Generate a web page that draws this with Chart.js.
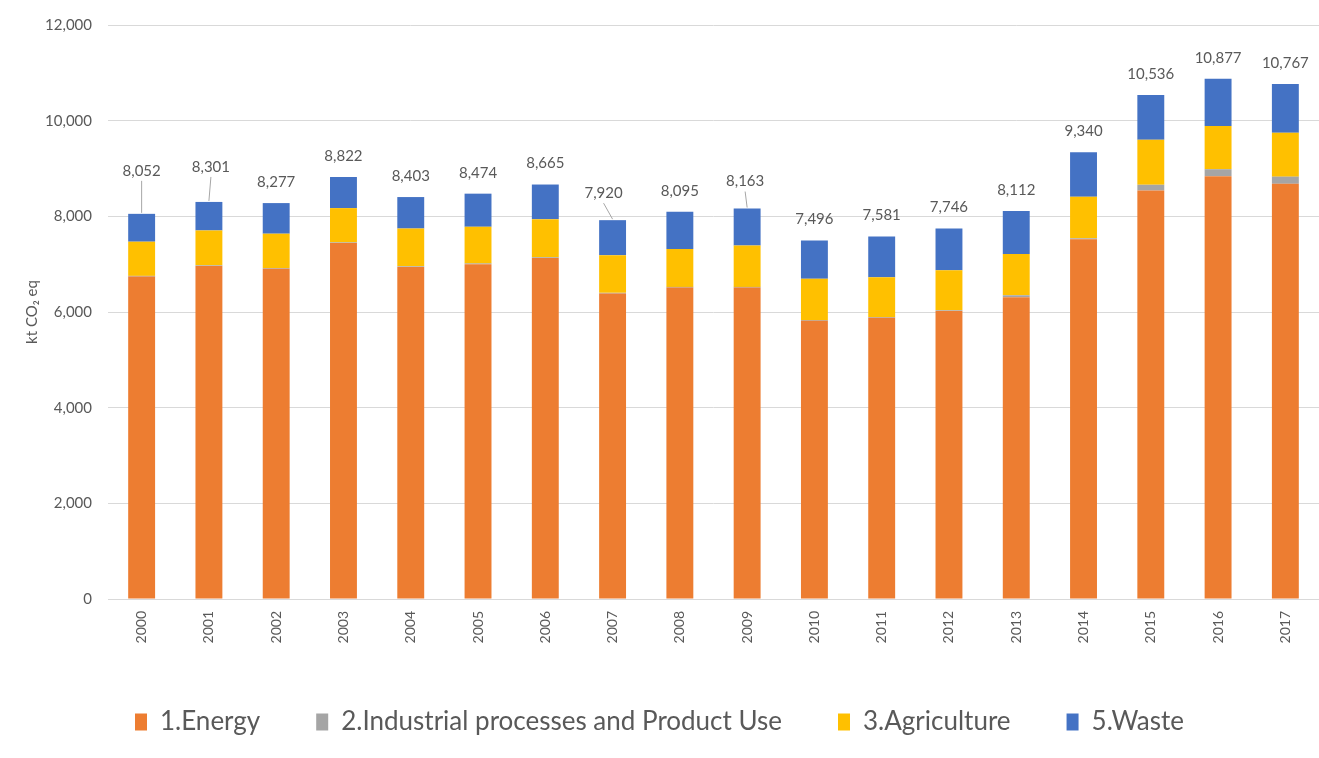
<!DOCTYPE html>
<html>
<head>
<meta charset="utf-8">
<script src="https://cdn.jsdelivr.net/npm/chart.js@4.4.1/dist/chart.umd.min.js"></script>
<style>
  html, body { margin: 0; padding: 0; background: #ffffff; }
  #wrap { width: 1319px; height: 758px; position: relative; }
</style>
</head>
<body>
<div id="wrap"><canvas id="c" width="1319" height="758"></canvas></div>
<script>
const years = ['2000','2001','2002','2003','2004','2005','2006','2007','2008','2009','2010','2011','2012','2013','2014','2015','2016','2017'];
const energy      = [6740, 6960, 6905, 7440, 6940, 7000, 7130, 6385, 6510, 6510, 5815, 5880, 6020, 6310, 7520, 8540, 8840, 8680];
const industrial  = [  15,   15,   15,   15,   15,   15,   15,   15,   15,   15,   15,   15,   15,   40,   20,  120,  145,  150];
const agriculture = [ 715,  730,  717,  717,  790,  767,  795,  787,  794,  863,  865,  830,  836,  865,  870,  940,  905,  920];
const waste       = [ 582,  596,  640,  650,  658,  692,  725,  733,  776,  775,  801,  856,  875,  897,  930,  936,  987, 1017];
const totals      = [8052, 8301, 8277, 8822, 8403, 8474, 8665, 7920, 8095, 8163, 7496, 7581, 7746, 8112, 9340, 10536, 10877, 10767];
const seriesNames = ['1.Energy', '2.Industrial processes and Product Use', '3.Agriculture', '5.Waste'];
const yTicks = [0, 2000, 4000, 6000, 8000, 10000, 12000];

const FONT = 'Lato, "Open Sans", sans-serif';
const TEXT = '#595959';

// label placement styling: default offset above stack, with some labels lifted and tied by a leader line
const labelStyle = {
  offset: 21,
  leaders: { 0: {dx: 0, dy: 43}, 1: {dx: 2, dy: 35}, 7: {dx: -9, dy: 27}, 9: {dx: -2, dy: 27} }
};

const totalLabels = {
  id: 'totalLabels',
  afterDatasetsDraw(chart) {
    const {ctx, scales: {x, y}} = chart;
    ctx.save();
    ctx.font = '15px ' + FONT;
    ctx.fillStyle = TEXT;
    ctx.textAlign = 'center';
    ctx.textBaseline = 'middle';
    totals.forEach((t, i) => {
      const cx = x.getPixelForValue(i);
      const top = y.getPixelForValue(t);
      const lead = labelStyle.leaders[i];
      const dy = lead ? lead.dy : labelStyle.offset;
      const dx = lead ? lead.dx : 0;
      const ly = top - dy;
      ctx.fillText(t.toLocaleString('en-US'), cx + dx, ly);
      if (lead) {
        ctx.strokeStyle = '#A6A6A6';
        ctx.lineWidth = 1;
        ctx.beginPath();
        ctx.moveTo(cx + dx, ly + 10);
        ctx.lineTo(cx, top - 1);
        ctx.stroke();
      }
    });
    ctx.restore();
  }
};

new Chart(document.getElementById('c'), {
  type: 'bar',
  data: {
    labels: years,
    datasets: [
      { label: seriesNames[0], data: energy,      backgroundColor: '#ED7D31' },
      { label: seriesNames[1], data: industrial,  backgroundColor: '#A5A5A5' },
      { label: seriesNames[2], data: agriculture, backgroundColor: '#FFC000' },
      { label: seriesNames[3], data: waste,       backgroundColor: '#4472C4' }
    ]
  },
  options: {
    responsive: false,
    animation: false,
    devicePixelRatio: 1,
    layout: { padding: { top: 25, right: 0, bottom: 13, left: 0 } },
    datasets: { bar: { categoryPercentage: 0.8, barPercentage: 0.5, borderWidth: 0 } },
    plugins: {
      tooltip: { enabled: false },
      legend: {
        position: 'bottom',
        labels: {
          font: { family: FONT, size: 26 },
          color: TEXT,
          boxWidth: 12,
          boxHeight: 17,
          padding: 56
        }
      }
    },
    scales: {
      x: {
        stacked: true,
        grid: { display: false, drawTicks: false },
        border: { display: true, color: '#D9D9D9', width: 1 },
        ticks: {
          font: { family: FONT, size: 14 },
          color: TEXT,
          minRotation: 90,
          maxRotation: 90,
          autoSkip: false,
          padding: 12
        },
        afterFit(scale) { scale.height = 54; }
      },
      y: {
        stacked: true,
        min: 0,
        max: 12000,
        afterBuildTicks(scale) { scale.ticks = yTicks.map(v => ({ value: v })); },
        grid: { color: '#D9D9D9', drawTicks: false, lineWidth: 1 },
        border: { display: false },
        ticks: {
          font: { family: FONT, size: 15 },
          color: TEXT,
          padding: 16,
          callback: (v) => Number(v).toLocaleString('en-US')
        },
        title: {
          display: true,
          text: 'kt CO₂ eq',
          font: { family: FONT, size: 15 },
          color: TEXT,
          padding: { top: 23, bottom: 0 }
        },
        afterFit(scale) { scale.width = 108; }
      }
    }
  },
  plugins: [totalLabels]
});
</script>
</body>
</html>
